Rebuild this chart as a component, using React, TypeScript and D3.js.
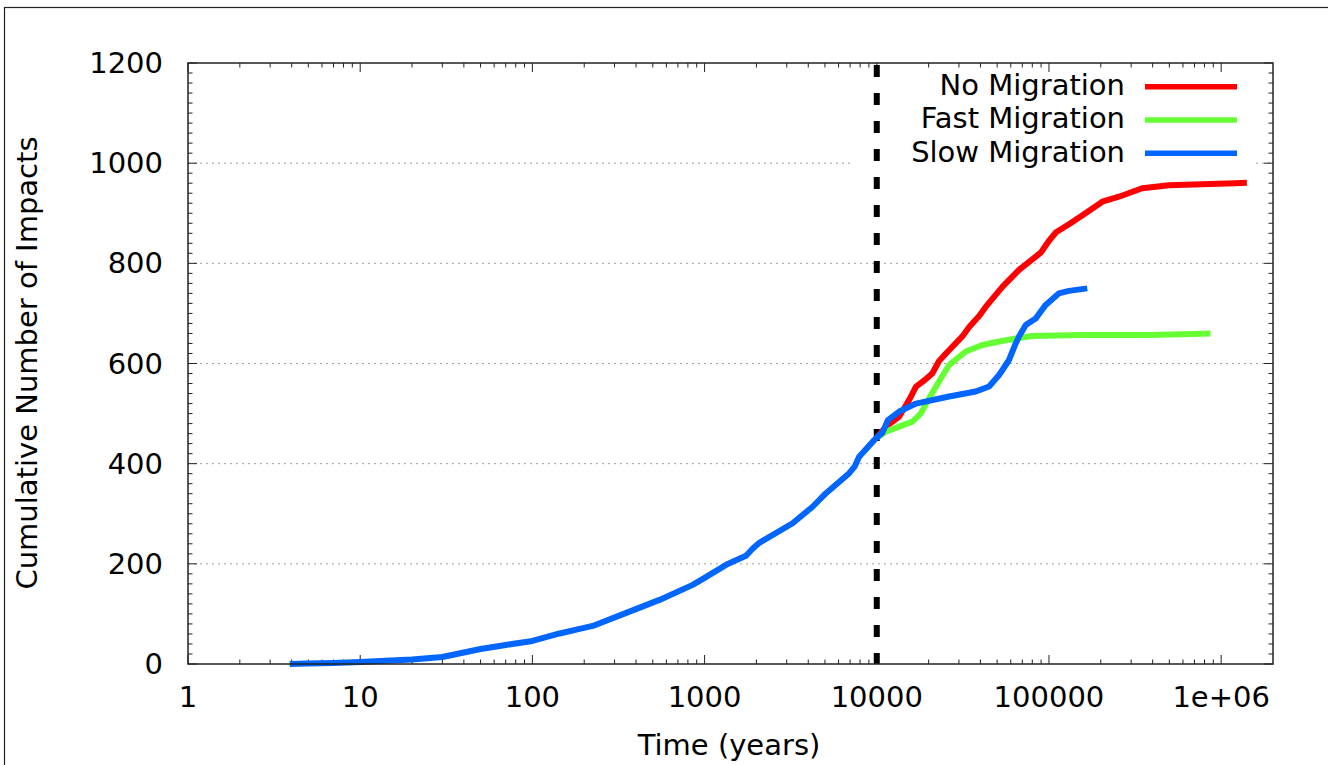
import React from "react";
import * as d3 from "d3";

const W = 1328;
const H = 765;

// Slow migration (blue) — shared history up to 10000 years, then slow migration branch
const slowT = [3.9, 5, 7, 10, 15, 20, 30, 50, 70, 100, 144, 188, 224, 351, 547, 853, 1000, 1333, 1740, 1900, 2080, 3245, 4240, 5070, 6920, 7430, 7900, 9660, 10000, 10800, 11600, 13500, 16900, 26300, 37600, 44900, 51300, 53700, 58600, 64100, 67000, 73300, 83700, 95700, 114000, 130600, 166900];
const slowV = [0, 1, 2, 4, 7, 9, 14, 30, 38, 46, 61, 70, 76, 102, 128, 158, 172, 198, 216, 230, 242, 281, 314, 341, 381, 394, 414, 447, 452, 462, 487, 504, 520, 534, 544, 554, 577, 587, 607, 640, 654, 677, 690, 717, 740, 745, 750];

// No migration (red)
const noT = [10000, 11300, 13500, 15400, 16900, 19000, 21000, 23000, 25200, 31400, 34400, 39300, 42900, 53600, 67000, 80000, 90000, 100000, 110000, 130600, 163000, 204000, 255000, 348000, 497000, 775000, 1210000, 1410000];
const noV = [452, 474, 494, 527, 554, 567, 580, 605, 620, 654, 673, 695, 713, 753, 787, 808, 822, 845, 862, 878, 900, 923, 933, 950, 956, 958, 960, 961];

// Fast migration (green)
const fastT = [10000, 11300, 13500, 16100, 18000, 20100, 23000, 26300, 32900, 41000, 51300, 64100, 80000, 156000, 380000, 678000, 867000];
const fastV = [452, 464, 474, 484, 500, 530, 564, 597, 624, 637, 644, 650, 655, 657, 657, 659, 660];

const yTicks = [0, 200, 400, 600, 800, 1000, 1200];
const xTicks = [1, 10, 100, 1000, 10000, 100000, 1000000];
const xTickLabels = ["1", "10", "100", "1000", "10000", "100000", "1e+06"];

const seriesNames = ["No Migration", "Fast Migration", "Slow Migration"];
const seriesColors = ["#ff0000", "#66ff33", "#0066ff"];

const FONT = "DejaVu Sans";
const FS = 29;

export default function App() {
  const left = 188, right = 1273, top = 63, bottom = 664;
  const x = d3.scaleLog().domain([1, 2e6]).range([left, right]);
  const y = d3.scaleLinear().domain([0, 1200]).range([bottom, top]);

  const mk = (ts: number[], vs: number[]) =>
    d3.line<number>().x((_, i) => x(ts[i])).y((v) => y(v)).curve(d3.curveLinear)(vs) || "";

  const series = [
    { d: mk(noT, noV), c: seriesColors[0] },
    { d: mk(fastT, fastV), c: seriesColors[1] },
    { d: mk(slowT, slowV), c: seriesColors[2] },
  ];

  const xMinor: number[] = [];
  for (let e = 0; e <= 6; e++) {
    for (let m = 2; m <= 9; m++) {
      const v = m * Math.pow(10, e);
      if (v < 2e6) xMinor.push(v);
    }
  }
  const yMinor: number[] = d3.range(0, 1201, 20).filter((v) => v % 200 !== 0);

  const legendRows = [0, 1, 2];

  return (
    <svg width={W} height={H} style={{ position: "absolute", left: 0, top: 0, background: "#fff" }} fontFamily={FONT}>
      <rect x={0} y={0} width={W} height={H} fill="#fff" />
      <rect x={4.5} y={7.5} width={W + 50} height={H + 50} fill="none" stroke="#222" strokeWidth={1.2} />

      {yTicks.filter((v) => v > 0 && v < 1200).map((v) => (
        <line key={"g" + v} x1={left} x2={right} y1={y(v)} y2={y(v)} stroke="#a0a0a0" strokeWidth={1} strokeDasharray="2,4" />
      ))}

      <rect x={850} y={66} width={403} height={103} fill="#fff" />

      {yTicks.map((v) => (
        <g key={"yt" + v}>
          <line x1={left} x2={left + 9} y1={y(v)} y2={y(v)} stroke="#222" strokeWidth={1} />
          <line x1={right} x2={right - 9} y1={y(v)} y2={y(v)} stroke="#222" strokeWidth={1} />
        </g>
      ))}
      {yMinor.map((v) => (
        <g key={"ym" + v}>
          <line x1={left} x2={left + 4.5} y1={y(v)} y2={y(v)} stroke="#222" strokeWidth={1} />
          <line x1={right} x2={right - 4.5} y1={y(v)} y2={y(v)} stroke="#222" strokeWidth={1} />
        </g>
      ))}
      {xTicks.map((v) => (
        <g key={"xt" + v}>
          <line x1={x(v)} x2={x(v)} y1={bottom} y2={bottom - 9} stroke="#222" strokeWidth={1} />
          <line x1={x(v)} x2={x(v)} y1={top} y2={top + 9} stroke="#222" strokeWidth={1} />
        </g>
      ))}
      {xMinor.map((v) => (
        <g key={"xm" + v}>
          <line x1={x(v)} x2={x(v)} y1={bottom} y2={bottom - 4.5} stroke="#222" strokeWidth={1} />
          <line x1={x(v)} x2={x(v)} y1={top} y2={top + 4.5} stroke="#222" strokeWidth={1} />
        </g>
      ))}

      {yTicks.map((v) => (
        <text key={"yl" + v} x={163} y={y(v) + 10} textAnchor="end" fontSize={FS} fill="#000">{v}</text>
      ))}
      {xTicks.map((v, i) => (
        <text key={"xl" + v} x={x(v)} y={707} textAnchor="middle" fontSize={FS} fill="#000">{xTickLabels[i]}</text>
      ))}

      <line x1={x(10000)} x2={x(10000)} y1={top} y2={bottom} stroke="#000" strokeWidth={6} strokeDasharray="12,16" strokeDashoffset={-2} />

      {series.map((s, i) => (
        <path key={"s" + i} d={s.d} fill="none" stroke={s.c} strokeWidth={6} strokeLinejoin="round" />
      ))}

      <rect x={left} y={top} width={right - left} height={bottom - top} fill="none" stroke="#222" strokeWidth={1.5} />

      {legendRows.map((i) => (
        <g key={"lg" + i}>
          <text x={1125} y={95 + i * 33.3} textAnchor="end" fontSize={FS} fill="#000">{seriesNames[i]}</text>
          <line x1={1145} x2={1237} y1={86.7 + i * 33.3} y2={86.7 + i * 33.3} stroke={seriesColors[i]} strokeWidth={5.5} />
        </g>
      ))}

      <text x={729} y={755} textAnchor="middle" fontSize={FS} fill="#000">Time (years)</text>
      <text transform={`translate(37,363) rotate(-90)`} textAnchor="middle" fontSize={FS} fill="#000">Cumulative Number of Impacts</text>
    </svg>
  );
}
